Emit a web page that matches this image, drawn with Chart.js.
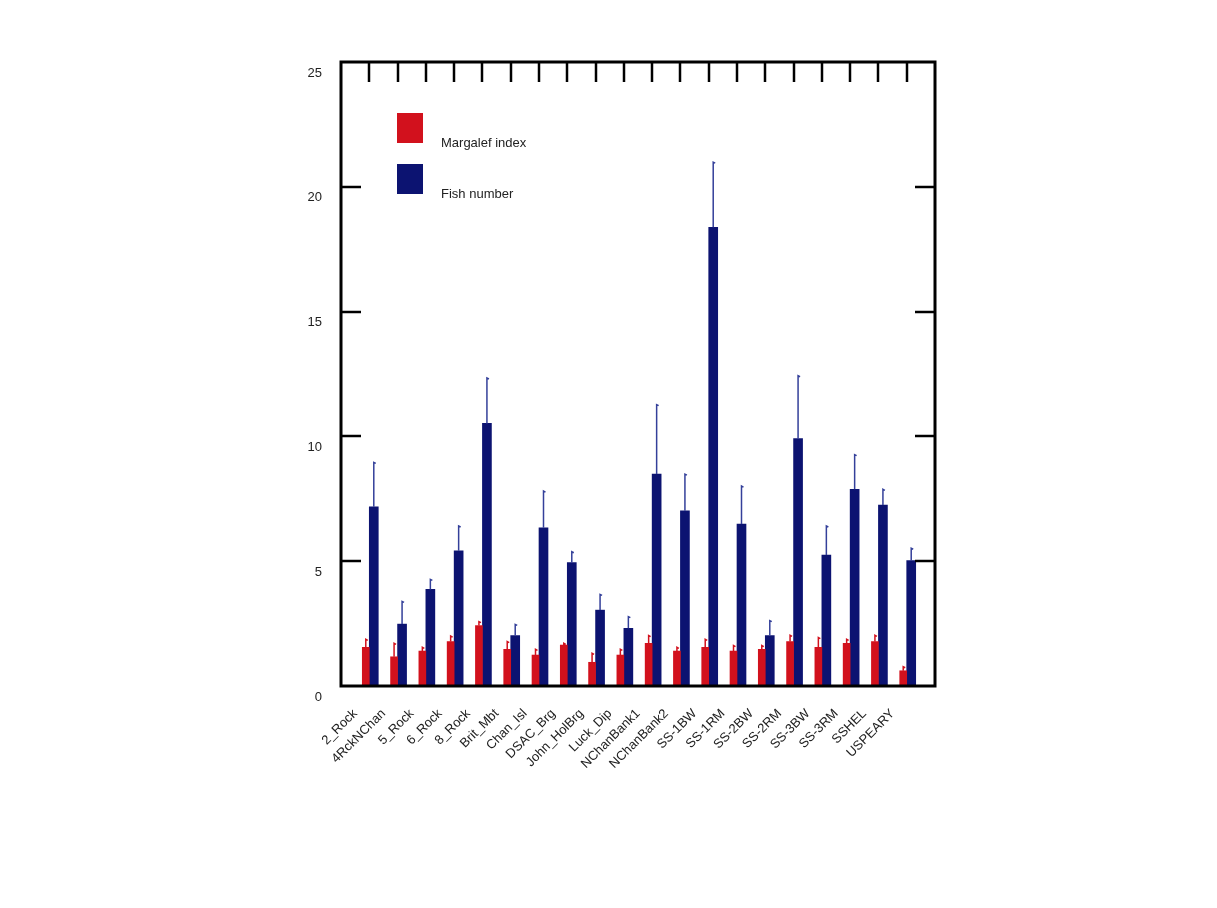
<!DOCTYPE html>
<html>
<head>
<meta charset="utf-8">
<script src="https://cdn.jsdelivr.net/npm/chart.js@4.4.1/dist/chart.umd.min.js"></script>
<style>
  html, body { margin: 0; padding: 0; background: #fff; }
  canvas { display: block; }
</style>
</head>
<body>
<canvas id="chart" width="1217" height="908"></canvas>
<script>
// ====== Data ======
const sites = ['2_Rock','4RckNChan','5_Rock','6_Rock','8_Rock','Brit_Mbt','Chan_Isl','DSAC_Brg',
  'John_HolBrg','Luck_Dip','NChanBank1','NChanBank2','SS-1BW','SS-1RM','SS-2BW','SS-2RM',
  'SS-3BW','SS-3RM','SSHEL','USPEARY'];
const margalef    = [1.55,1.17,1.40,1.78,2.42,1.47,1.24,1.64,0.95,1.24,1.71,1.40,1.55,1.40,1.47,1.78,1.55,1.71,1.78,0.61];
const margalefErr = [0.32,0.54,0.15,0.22,0.16,0.31,0.23,0.07,0.36,0.23,0.31,0.15,0.32,0.22,0.15,0.25,0.39,0.16,0.25,0.16];
const fish        = [7.18,2.48,3.87,5.42,10.52,2.02,6.34,4.94,3.04,2.31,8.49,7.02,18.38,6.49,2.02,9.91,5.25,7.88,7.25,5.02];
const fishErr     = [1.78,0.91,0.40,0.99,1.82,0.45,1.47,0.44,0.63,0.47,2.78,1.47,2.61,1.52,0.60,2.52,1.16,1.39,0.63,0.50];
const yTicks = [0, 5, 10, 15, 20, 25];

const RED = '#d2111d';
const BLUE = '#0c1371';
const FONT = "'Liberation Sans Narrow', 'Liberation Sans', Arial, sans-serif";

const toXY = arr => arr.map((v, i) => ({ x: i + 1, y: v }));

// ====== Plugins: frame, inner ticks, legend, error bars ======
const framePlugin = {
  id: 'frame',
  afterDraw(chart){
    const { ctx, chartArea: a, scales: { x, y } } = chart;
    ctx.save();
    ctx.strokeStyle = '#000';
    ctx.lineWidth = 2.5;
    // inner ticks on top (at each site)
    sites.forEach((_, i) => {
      const px = Math.round(x.getPixelForValue(i + 1));
      ctx.beginPath(); ctx.moveTo(px, a.top); ctx.lineTo(px, a.top + 20); ctx.stroke();
    });
    // inner ticks left & right
    yTicks.slice(1, -1).forEach(v => {
      const py = Math.round(y.getPixelForValue(v));
      ctx.beginPath(); ctx.moveTo(a.left, py); ctx.lineTo(a.left + 20, py); ctx.stroke();
      ctx.beginPath(); ctx.moveTo(a.right, py); ctx.lineTo(a.right - 20, py); ctx.stroke();
    });
    ctx.lineWidth = 3;
    ctx.strokeRect(a.left, a.top, a.right - a.left, a.bottom - a.top);

    // legend
    ctx.font = '13px ' + FONT;
    ctx.textBaseline = 'middle';
    chart.data.datasets.forEach((ds, i) => {
      const top = 113 + i * 51;
      ctx.fillStyle = ds.backgroundColor;
      ctx.fillRect(397, top, 26, 30);
      ctx.fillStyle = '#222';
      ctx.fillText(ds.label, 441, top + 30);
    });
    ctx.restore();
  }
};

const errorBarPlugin = {
  id: 'errbars',
  afterDatasetsDraw(chart){
    const { ctx, scales: { y } } = chart;
    ctx.save();
    chart.data.datasets.forEach((ds, di) => {
      const meta = chart.getDatasetMeta(di);
      ctx.strokeStyle = ds.errColor;
      ctx.lineWidth = 1.5;
      meta.data.forEach((bar, i) => {
        const v = ds.data[i].y;
        const top = y.getPixelForValue(v + ds.errors[i]);
        ctx.beginPath();
        ctx.moveTo(bar.x, bar.y);
        ctx.lineTo(bar.x, top);
        ctx.lineTo(bar.x + 2, top + 1);
        ctx.stroke();
      });
    });
    ctx.restore();
  }
};

// ====== Chart ======
new Chart(document.getElementById('chart').getContext('2d'), {
  type: 'bar',
  data: {
    datasets: [
      { label: 'Margalef index', data: toXY(margalef), errors: margalefErr,
        backgroundColor: RED, errColor: RED, barThickness: 7 },
      { label: 'Fish number', data: toXY(fish), errors: fishErr,
        backgroundColor: BLUE, errColor: '#34409a', barThickness: 9 }
    ]
  },
  options: {
    responsive: false,
    animation: false,
    layout: { padding: { left: 0, top: 62, right: 282, bottom: 0 } },
    plugins: { legend: { display: false }, tooltip: { enabled: false } },
    scales: {
      x: {
        type: 'linear', min: 0, max: sites.length + 1, offset: false,
        grid: { display: false, drawTicks: false },
        border: { display: false },
        afterFit(s){ s.height = 908 - 686; },
        ticks: {
          stepSize: 1, autoSkip: false, minRotation: 45, maxRotation: 45,
          padding: 20, labelOffset: -14, color: '#222',
          font: { family: FONT, size: 13 },
          callback: v => sites[v - 1] || ''
        }
      },
      y: {
        min: 0, max: 25,
        grid: { display: false, drawTicks: false },
        border: { display: false },
        afterFit(s){ s.width = 341; },
        afterBuildTicks(s){ s.ticks = yTicks.map(v => ({ value: v })); },
        ticks: {
          padding: 19, labelOffset: 11, color: '#222',
          font: { family: FONT, size: 13 }
        }
      }
    }
  },
  plugins: [errorBarPlugin, framePlugin]
});
</script>
</body>
</html>
